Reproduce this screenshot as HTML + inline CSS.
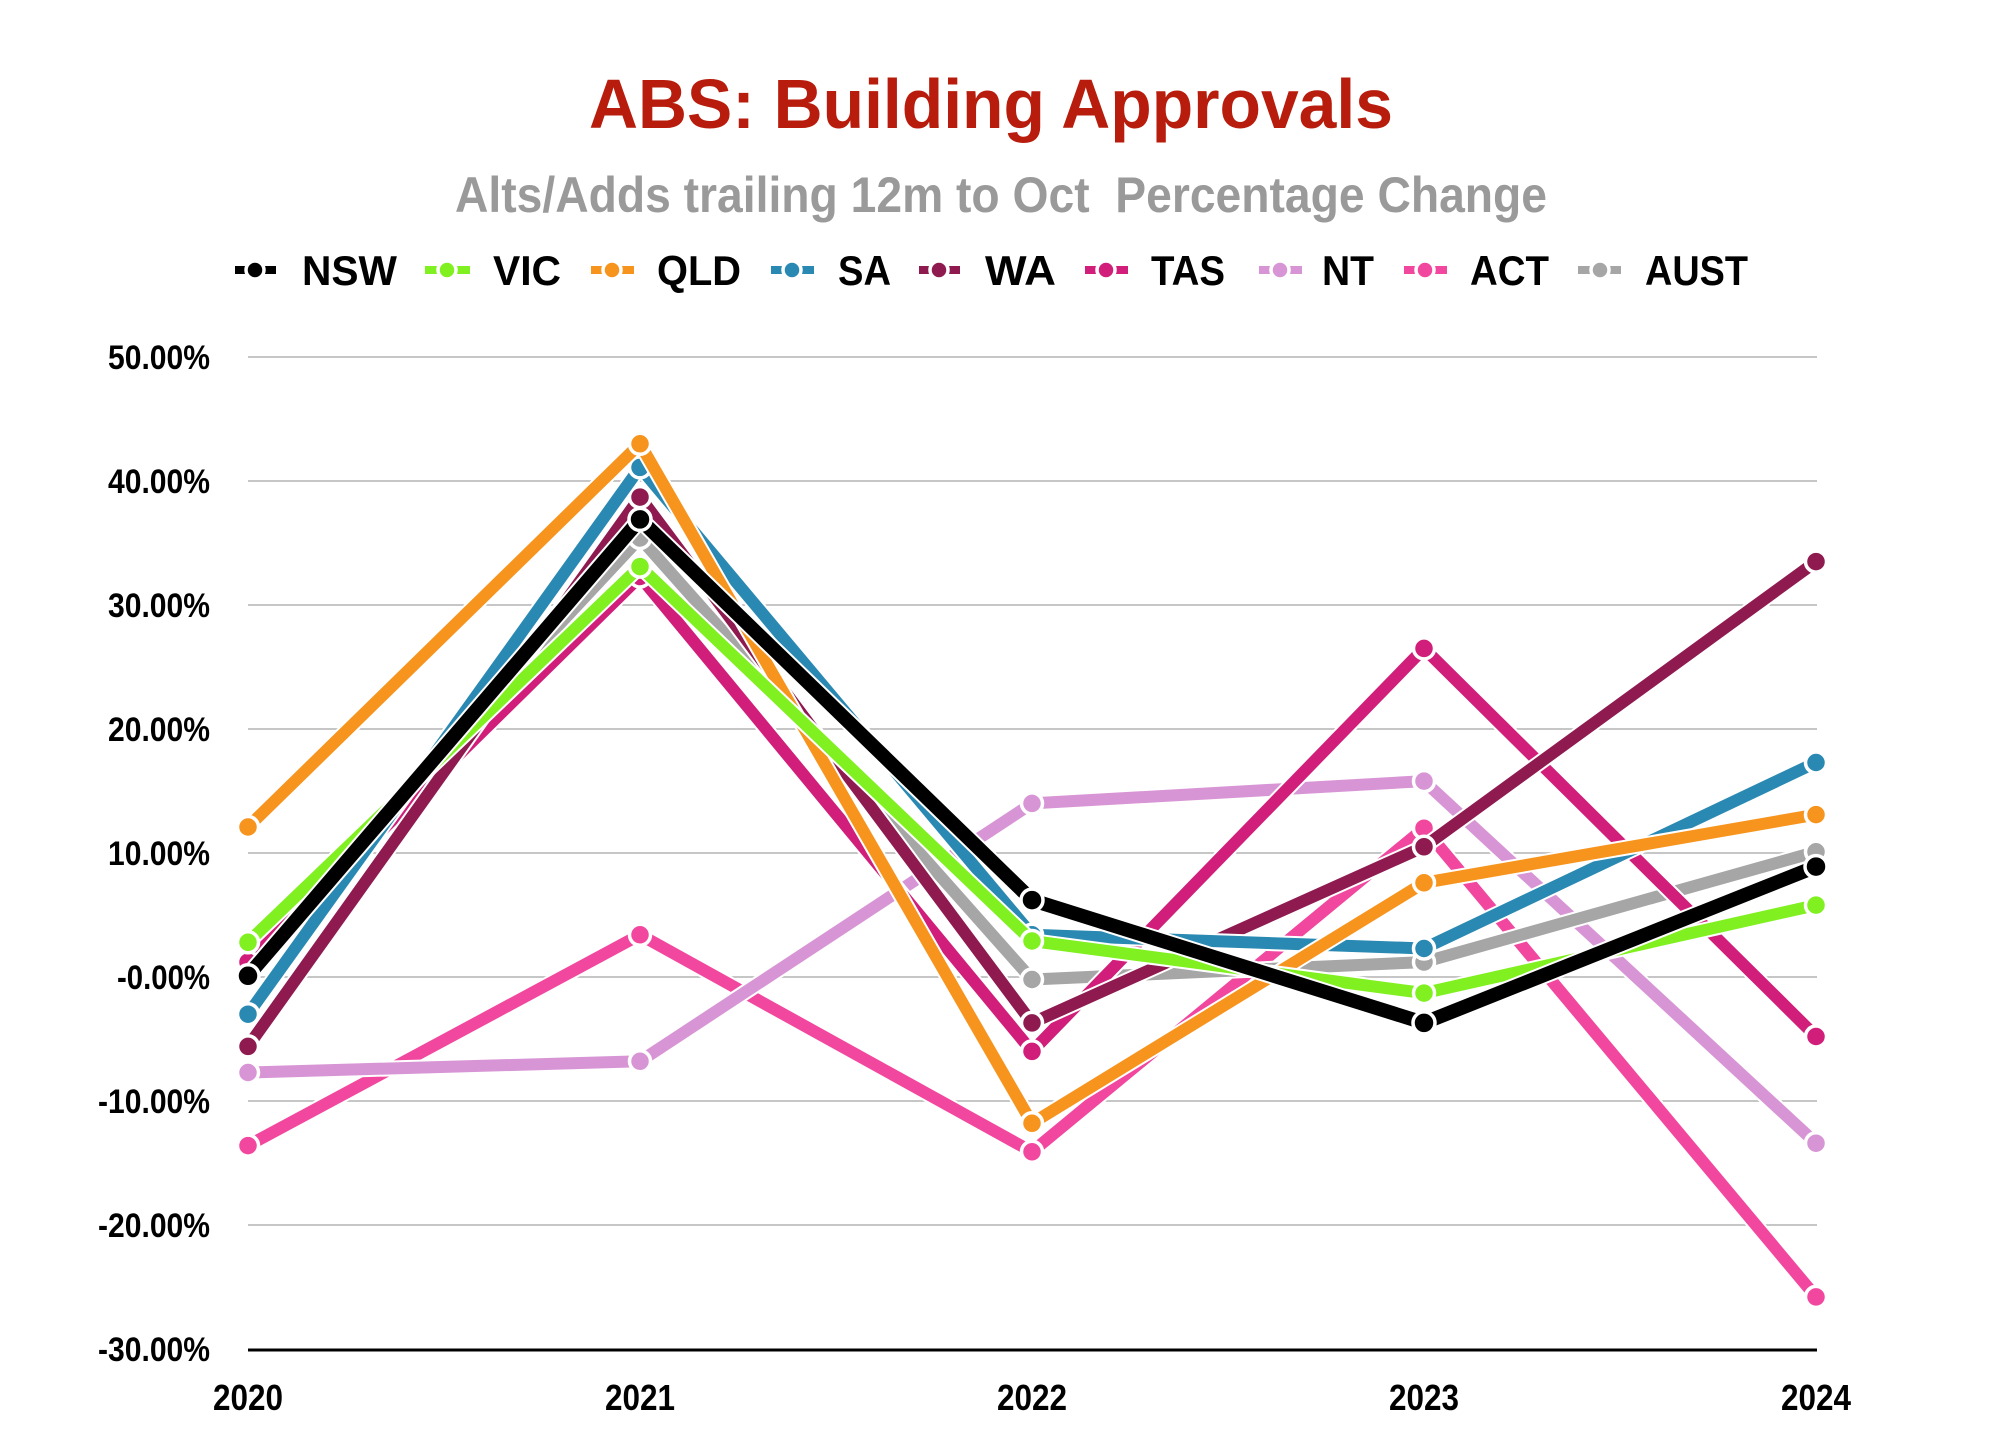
<!DOCTYPE html>
<html>
<head>
<meta charset="utf-8">
<style>
  html, body { margin:0; padding:0; background:#ffffff; }
  svg { display:block; }
  text { font-family: "Liberation Sans", Arial, sans-serif; font-weight: bold; }
</style>
</head>
<body>
<svg width="2000" height="1450" viewBox="0 0 2000 1450" xmlns="http://www.w3.org/2000/svg">
  <rect x="0" y="0" width="2000" height="1450" fill="#ffffff"/>

  <!-- Title -->
  <text x="991" y="128" font-size="70" fill="#b71c0c" text-anchor="middle" textLength="804" lengthAdjust="spacingAndGlyphs">ABS: Building Approvals</text>
  <text x="1001" y="212" font-size="50" fill="#9a9a9a" text-anchor="middle" textLength="1092" lengthAdjust="spacingAndGlyphs" xml:space="preserve">Alts/Adds trailing 12m to Oct  Percentage Change</text>

  <!-- Legend -->
  <g stroke-linecap="butt">
    <line x1="235" y1="270" x2="276" y2="270" stroke="#000000" stroke-width="8"/>
    <circle cx="255" cy="270" r="9" fill="#000000" stroke="#fff" stroke-width="3.5"/>
    <line x1="425" y1="270" x2="470" y2="270" stroke="#80f020" stroke-width="8"/>
    <circle cx="447" cy="270" r="9" fill="#80f020" stroke="#fff" stroke-width="3.5"/>
    <line x1="591" y1="270" x2="634" y2="270" stroke="#f7941d" stroke-width="8"/>
    <circle cx="612" cy="270" r="9" fill="#f7941d" stroke="#fff" stroke-width="3.5"/>
    <line x1="771" y1="270" x2="814" y2="270" stroke="#2a89b2" stroke-width="8"/>
    <circle cx="792" cy="270" r="9" fill="#2a89b2" stroke="#fff" stroke-width="3.5"/>
    <line x1="919" y1="270" x2="960" y2="270" stroke="#8e1a50" stroke-width="8"/>
    <circle cx="939" cy="270" r="9" fill="#8e1a50" stroke="#fff" stroke-width="3.5"/>
    <line x1="1085" y1="270" x2="1128" y2="270" stroke="#d01e7a" stroke-width="8"/>
    <circle cx="1106" cy="270" r="9" fill="#d01e7a" stroke="#fff" stroke-width="3.5"/>
    <line x1="1259" y1="270" x2="1302" y2="270" stroke="#d895d5" stroke-width="8"/>
    <circle cx="1280" cy="270" r="9" fill="#d895d5" stroke="#fff" stroke-width="3.5"/>
    <line x1="1404" y1="270" x2="1447" y2="270" stroke="#f2479f" stroke-width="8"/>
    <circle cx="1425" cy="270" r="9" fill="#f2479f" stroke="#fff" stroke-width="3.5"/>
    <line x1="1578" y1="270" x2="1621" y2="270" stroke="#a6a6a6" stroke-width="8"/>
    <circle cx="1600" cy="270" r="9" fill="#a6a6a6" stroke="#fff" stroke-width="3.5"/>
  </g>
  <g font-size="42" fill="#000000">
    <text x="302" y="285" textLength="95" lengthAdjust="spacingAndGlyphs">NSW</text>
    <text x="493" y="285" textLength="68" lengthAdjust="spacingAndGlyphs">VIC</text>
    <text x="657" y="285" textLength="84" lengthAdjust="spacingAndGlyphs">QLD</text>
    <text x="838" y="285" textLength="53" lengthAdjust="spacingAndGlyphs">SA</text>
    <text x="985" y="285" textLength="71" lengthAdjust="spacingAndGlyphs">WA</text>
    <text x="1151" y="285" textLength="74" lengthAdjust="spacingAndGlyphs">TAS</text>
    <text x="1322" y="285" textLength="52" lengthAdjust="spacingAndGlyphs">NT</text>
    <text x="1470" y="285" textLength="79" lengthAdjust="spacingAndGlyphs">ACT</text>
    <text x="1645" y="285" textLength="103" lengthAdjust="spacingAndGlyphs">AUST</text>
  </g>

  <!-- Gridlines -->
  <g stroke="#b4b4b4" stroke-width="1.6">
    <line x1="248" y1="357" x2="1817" y2="357"/>
    <line x1="248" y1="481" x2="1817" y2="481"/>
    <line x1="248" y1="605" x2="1817" y2="605"/>
    <line x1="248" y1="729" x2="1817" y2="729"/>
    <line x1="248" y1="853" x2="1817" y2="853"/>
    <line x1="248" y1="977" x2="1817" y2="977"/>
    <line x1="248" y1="1101" x2="1817" y2="1101"/>
    <line x1="248" y1="1225" x2="1817" y2="1225"/>
  </g>
  <line x1="248" y1="1350" x2="1817" y2="1350" stroke="#000000" stroke-width="3"/>

  <!-- Y labels -->
  <g font-size="34" fill="#000000" text-anchor="end">
    <text x="210" y="369" textLength="102" lengthAdjust="spacingAndGlyphs">50.00%</text>
    <text x="210" y="493" textLength="102" lengthAdjust="spacingAndGlyphs">40.00%</text>
    <text x="210" y="617" textLength="102" lengthAdjust="spacingAndGlyphs">30.00%</text>
    <text x="210" y="741" textLength="102" lengthAdjust="spacingAndGlyphs">20.00%</text>
    <text x="210" y="865" textLength="102" lengthAdjust="spacingAndGlyphs">10.00%</text>
    <text x="210" y="989" textLength="93" lengthAdjust="spacingAndGlyphs">-0.00%</text>
    <text x="210" y="1113" textLength="112" lengthAdjust="spacingAndGlyphs">-10.00%</text>
    <text x="210" y="1237" textLength="112" lengthAdjust="spacingAndGlyphs">-20.00%</text>
    <text x="210" y="1361" textLength="112" lengthAdjust="spacingAndGlyphs">-30.00%</text>
  </g>

  <!-- X labels -->
  <g font-size="36" fill="#000000" text-anchor="middle">
    <text x="248" y="1410" textLength="70" lengthAdjust="spacingAndGlyphs">2020</text>
    <text x="640" y="1410" textLength="70" lengthAdjust="spacingAndGlyphs">2021</text>
    <text x="1032" y="1410" textLength="70" lengthAdjust="spacingAndGlyphs">2022</text>
    <text x="1424" y="1410" textLength="70" lengthAdjust="spacingAndGlyphs">2023</text>
    <text x="1816" y="1410" textLength="70" lengthAdjust="spacingAndGlyphs">2024</text>
  </g>

  <!-- Series (bottom to top) -->
  <g fill="none" stroke-linejoin="round" stroke-linecap="butt">
    <!-- ACT -->
    <polyline points="248,1145.6 640,934.8 1032,1151.8 1424,828.2 1816,1296.9" stroke="#ffffff" stroke-width="16"/>
    <polyline points="248,1145.6 640,934.8 1032,1151.8 1424,828.2 1816,1296.9" stroke="#f2479f" stroke-width="12"/>
    <g fill="#f2479f" stroke="#fff" stroke-width="3.5">
      <circle cx="248" cy="1145.6" r="10.5"/><circle cx="640" cy="934.8" r="10.5"/><circle cx="1032" cy="1151.8" r="10.5"/><circle cx="1424" cy="828.2" r="10.5"/><circle cx="1816" cy="1296.9" r="10.5"/>
    </g>
    <!-- NT -->
    <polyline points="248,1072.5 640,1061.3 1032,803.4 1424,781.1 1816,1143.2" stroke="#ffffff" stroke-width="16"/>
    <polyline points="248,1072.5 640,1061.3 1032,803.4 1424,781.1 1816,1143.2" stroke="#d895d5" stroke-width="12"/>
    <g fill="#d895d5" stroke="#fff" stroke-width="3.5">
      <circle cx="248" cy="1072.5" r="10.5"/><circle cx="640" cy="1061.3" r="10.5"/><circle cx="1032" cy="803.4" r="10.5"/><circle cx="1424" cy="781.1" r="10.5"/><circle cx="1816" cy="1143.2" r="10.5"/>
    </g>
    <!-- AUST -->
    <polyline points="248,958.4 640,538 1032,979.5 1424,962.1 1816,851.8" stroke="#ffffff" stroke-width="16"/>
    <polyline points="248,958.4 640,538 1032,979.5 1424,962.1 1816,851.8" stroke="#a6a6a6" stroke-width="12"/>
    <g fill="#a6a6a6" stroke="#fff" stroke-width="3.5">
      <circle cx="248" cy="958.4" r="10.5"/><circle cx="640" cy="538" r="10.5"/><circle cx="1032" cy="979.5" r="10.5"/><circle cx="1424" cy="962.1" r="10.5"/><circle cx="1816" cy="851.8" r="10.5"/>
    </g>
    <!-- TAS -->
    <polyline points="248,962.1 640,576.5 1032,1051.4 1424,648.4 1816,1036.5" stroke="#ffffff" stroke-width="16"/>
    <polyline points="248,962.1 640,576.5 1032,1051.4 1424,648.4 1816,1036.5" stroke="#d01e7a" stroke-width="12"/>
    <g fill="#d01e7a" stroke="#fff" stroke-width="3.5">
      <circle cx="248" cy="962.1" r="10.5"/><circle cx="640" cy="576.5" r="10.5"/><circle cx="1032" cy="1051.4" r="10.5"/><circle cx="1424" cy="648.4" r="10.5"/><circle cx="1816" cy="1036.5" r="10.5"/>
    </g>
    <!-- WA -->
    <polyline points="248,1046.4 640,497.1 1032,1022.9 1424,846.8 1816,561.6" stroke="#ffffff" stroke-width="16"/>
    <polyline points="248,1046.4 640,497.1 1032,1022.9 1424,846.8 1816,561.6" stroke="#8e1a50" stroke-width="12"/>
    <g fill="#8e1a50" stroke="#fff" stroke-width="3.5">
      <circle cx="248" cy="1046.4" r="10.5"/><circle cx="640" cy="497.1" r="10.5"/><circle cx="1032" cy="1022.9" r="10.5"/><circle cx="1424" cy="846.8" r="10.5"/><circle cx="1816" cy="561.6" r="10.5"/>
    </g>
    <!-- SA -->
    <polyline points="248,1014.2 640,467.4 1032,934.8 1424,948.5 1816,762.5" stroke="#ffffff" stroke-width="16"/>
    <polyline points="248,1014.2 640,467.4 1032,934.8 1424,948.5 1816,762.5" stroke="#2a89b2" stroke-width="12"/>
    <g fill="#2a89b2" stroke="#fff" stroke-width="3.5">
      <circle cx="248" cy="1014.2" r="10.5"/><circle cx="640" cy="467.4" r="10.5"/><circle cx="1032" cy="934.8" r="10.5"/><circle cx="1424" cy="948.5" r="10.5"/><circle cx="1816" cy="762.5" r="10.5"/>
    </g>
    <!-- QLD -->
    <polyline points="248,827 640,443.8 1032,1123.3 1424,882.8 1816,814.6" stroke="#ffffff" stroke-width="16"/>
    <polyline points="248,827 640,443.8 1032,1123.3 1424,882.8 1816,814.6" stroke="#f7941d" stroke-width="12"/>
    <g fill="#f7941d" stroke="#fff" stroke-width="3.5">
      <circle cx="248" cy="827" r="10.5"/><circle cx="640" cy="443.8" r="10.5"/><circle cx="1032" cy="1123.3" r="10.5"/><circle cx="1424" cy="882.8" r="10.5"/><circle cx="1816" cy="814.6" r="10.5"/>
    </g>
    <!-- VIC -->
    <polyline points="248,942.3 640,566.6 1032,941 1424,993.1 1816,905.1" stroke="#ffffff" stroke-width="16"/>
    <polyline points="248,942.3 640,566.6 1032,941 1424,993.1 1816,905.1" stroke="#80f020" stroke-width="12"/>
    <g fill="#80f020" stroke="#fff" stroke-width="3.5">
      <circle cx="248" cy="942.3" r="10.5"/><circle cx="640" cy="566.6" r="10.5"/><circle cx="1032" cy="941" r="10.5"/><circle cx="1424" cy="993.1" r="10.5"/><circle cx="1816" cy="905.1" r="10.5"/>
    </g>
    <!-- NSW -->
    <polyline points="248,975.8 640,519.4 1032,900.1 1424,1022.9 1816,866.6" stroke="#ffffff" stroke-width="18"/>
    <polyline points="248,975.8 640,519.4 1032,900.1 1424,1022.9 1816,866.6" stroke="#000000" stroke-width="14"/>
    <g fill="#000000" stroke="#fff" stroke-width="3.5">
      <circle cx="248" cy="975.8" r="11"/><circle cx="640" cy="519.4" r="11"/><circle cx="1032" cy="900.1" r="11"/><circle cx="1424" cy="1022.9" r="11"/><circle cx="1816" cy="866.6" r="11"/>
    </g>
  </g>
</svg>
</body>
</html>
